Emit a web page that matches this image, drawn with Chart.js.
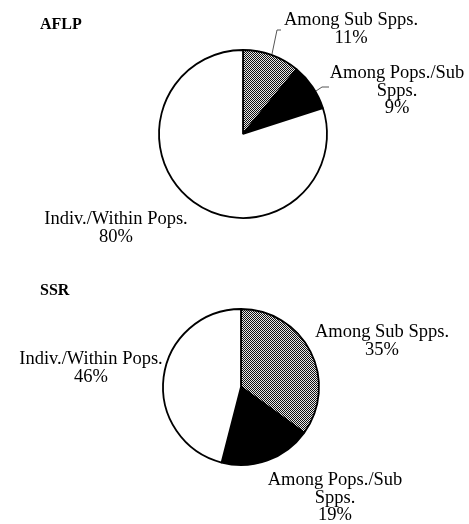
<!DOCTYPE html>
<html><head><meta charset="utf-8">
<script src="https://cdn.jsdelivr.net/npm/chart.js@4/dist/chart.umd.min.js"></script>
<style>
html,body{margin:0;padding:0;background:#fff;width:469px;height:524px;overflow:hidden}
.wrap{position:absolute;left:0;width:469px;height:262px}
</style></head><body>
<div class="wrap" style="top:0"><canvas id="c1"></canvas></div>
<div class="wrap" style="top:262px"><canvas id="c2"></canvas></div>
<script>
// ---- data ----
const categories = ['Among Sub Spps.', 'Among Pops./Sub Spps.', 'Indiv./Within Pops.'];
const categoryLines = [['Among Sub Spps.'], ['Among Pops./Sub', 'Spps.'], ['Indiv./Within Pops.']];
const aflpValues = [11, 9, 80];
const ssrValues = [35, 19, 46];
const chartTitles = ['AFLP', 'SSR'];

// ---- layout (positions, not data) ----
const layouts = [
  { padding: {left: 159, right: 142, top: 50, bottom: 44}, radius: 84,
    title: [40, 29],
    labels: [[351, 25], [397, 78], [116, 224]],
    leaders: [[[272, 54], [277, 30], [281, 30]], [[316, 91], [322, 87], [329, 87]]] },
  { padding: {left: 163, right: 150, top: 47, bottom: 59}, radius: 78,
    title: [40, 33],
    labels: [[382, 75], [335, 223], [91, 102]],
    leaders: [] }
];

function makeHatch() {
  const c = document.createElement('canvas');
  c.width = 2; c.height = 2;
  const x = c.getContext('2d');
  x.fillStyle = '#e8e8e8'; x.fillRect(0, 0, 2, 2);
  x.fillStyle = '#111111'; x.fillRect(0, 0, 1, 1); x.fillRect(1, 1, 1, 1);
  return document.createElement('canvas').getContext('2d').createPattern(c, 'repeat');
}
const hatch = makeHatch();

const labelPlugin = {
  id: 'pieLabels',
  afterDraw(chart, args, opts) {
    const ctx = chart.ctx;
    const L = opts.layout;
    ctx.save();
    ctx.fillStyle = '#000';
    ctx.textBaseline = 'alphabetic';
    ctx.font = 'bold 16px "Liberation Serif"';
    ctx.textAlign = 'left';
    ctx.fillText(opts.title, L.title[0], L.title[1]);
    ctx.font = '18.5px "Liberation Serif"';
    ctx.textAlign = 'center';
    const vals = chart.data.datasets[0].data;
    const lh = 17.5;
    chart.data.labels.forEach((lab, i) => {
      const lines = categoryLines[i].concat([vals[i] + '%']);
      lines.forEach((t, k) => ctx.fillText(t, L.labels[i][0], L.labels[i][1] + k * lh));
    });
    ctx.strokeStyle = '#555';
    ctx.lineWidth = 1;
    L.leaders.forEach(pts => {
      ctx.beginPath();
      pts.forEach((p, k) => k ? ctx.lineTo(p[0], p[1]) : ctx.moveTo(p[0], p[1]));
      ctx.stroke();
    });
    ctx.restore();
  }
};

function makeChart(id, values, idx) {
  const L = layouts[idx];
  return new Chart(document.getElementById(id), {
    type: 'pie',
    data: {
      labels: categories,
      datasets: [{
        data: values,
        backgroundColor: [hatch, '#000000', '#ffffff'],
        borderColor: '#000',
        borderWidth: 1.8,
        hoverOffset: 0
      }]
    },
    options: {
      responsive: true,
      maintainAspectRatio: false,
      animation: false,
      events: [],
      radius: L.radius,
      layout: { padding: L.padding },
      plugins: {
        legend: { display: false },
        tooltip: { enabled: false },
        pieLabels: { layout: L, title: chartTitles[idx] }
      }
    },
    plugins: [labelPlugin]
  });
}
makeChart('c1', aflpValues, 0);
makeChart('c2', ssrValues, 1);
</script>
</body></html>
